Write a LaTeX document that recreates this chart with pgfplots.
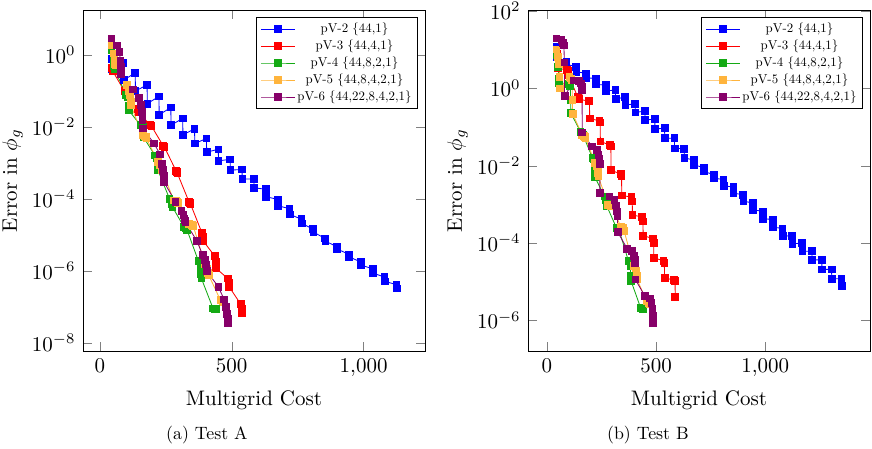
\documentclass[border=0pt]{standalone}
\usepackage{graphicx}
\usepackage{pgfplots}
\pgfplotsset{compat=1.18}
\definecolor{cgreen}{RGB}{20,170,20}
\definecolor{corange}{RGB}{255,180,60}
\definecolor{cpurple}{RGB}{135,0,105}
\newcommand{\legtxt}[1]{\scalebox{0.613}{#1}}
\begin{document}
\begin{tikzpicture}
\begin{axis}[width=162.9pt, height=162.4pt, scale only axis,
    ymode=log,
    xlabel={Multigrid Cost}, ylabel={Error in $\phi_g$}, ylabel shift=-2.5pt,
    xtick={0,500,1000},
    legend cell align=center,
    legend style={draw=black, at={(0.98,0.98)}, anchor=north east, nodes={inner sep=1pt}, inner xsep=2pt, inner ysep=1.5pt},
    legend image code/.code={\draw[mark repeat=2,mark phase=2,#1] plot coordinates {(0cm,0cm) (0.28cm,0cm) (0.56cm,0cm)};},
    every axis plot/.append style={mark=square*, mark size=1.6pt, line width=0.4pt},
    at={(0pt,0pt)}, anchor=south west, ytick={1e-8,1e-6,1e-4,1e-2,1}]
\addplot[blue] coordinates {
(44,7.9e-1)(45,4.0e-1)(89,6.0e-1)(90,2.0e-1)(134,3.2e-1)(135,1.0e-1)
(179,1.48e-1)(180,4.47e-2)(224,7.08e-2)(225,2.19e-2)(269,3.47e-2)(270,1.12e-2)
(314,1.74e-2)(315,6.03e-3)(359,8.91e-3)(360,3.47e-3)(404,4.79e-3)(405,2.0e-3)
(449,2.40e-3)(450,1.15e-3)(494,1.26e-3)(495,6.31e-4)(539,6.61e-4)(540,3.63e-4)
(584,3.55e-4)(585,2.04e-4)(629,1.86e-4)(630,1.15e-4)(674,9.77e-5)(675,6.46e-5)
(719,5.37e-5)(720,3.72e-5)(764,2.75e-5)(765,2.09e-5)(809,1.45e-5)(810,1.20e-5)
(854,7.94e-6)(855,6.76e-6)(899,4.68e-6)(900,4.07e-6)(944,2.88e-6)(945,2.45e-6)
(989,1.78e-6)(990,1.45e-6)(1034,1.15e-6)(1035,8.71e-7)(1079,6.76e-7)(1080,5.13e-7)
(1124,4.17e-7)(1125,3.24e-7)};
\addlegendentry{\legtxt{pV-2 \{44,1\}}}
\addplot[red] coordinates {
(44,0.447)(48,0.398)(49,0.355)
(93,0.100)(97,0.0912)(98,0.0851)
(142,0.0316)(146,0.0288)(147,0.0263)
(191,0.0112)(195,0.0107)(196,0.0105)
(240,3.02e-3)(244,2.88e-3)(245,2.75e-3)
(289,6.03e-4)(293,5.62e-4)(294,5.13e-4)
(338,8.32e-5)(342,7.76e-5)(343,7.41e-5)
(387,1.15e-5)(391,8.91e-6)(392,6.76e-6)
(436,2.57e-6)(440,1.78e-6)(441,1.17e-6)
(485,6.17e-7)(489,4.68e-7)(490,3.63e-7)
(534,1.20e-7)(538,9.12e-8)(539,6.92e-8)};
\addlegendentry{\legtxt{pV-3 \{44,4,1\}}}
\addplot[cgreen] coordinates {
(44,1.41)(52,0.794)(54,0.501)(55,0.417)
(99,0.0794)(107,0.0676)(109,0.0398)(110,0.0288)
(154,0.0112)(162,0.0100)(164,6.31e-3)(165,5.25e-3)
(209,1.62e-3)(217,1.41e-3)(219,7.94e-4)(220,6.31e-4)
(264,1.02e-4)(272,8.91e-5)(274,7.08e-5)(275,6.03e-5)
(319,1.66e-5)(327,1.58e-5)(329,1.48e-5)(330,1.41e-5)
(374,1.86e-6)(382,1.26e-6)(384,7.94e-7)(385,6.17e-7)
(429,9.12e-8)(437,8.91e-8)(439,8.71e-8)(440,8.51e-8)};
\addlegendentry{\legtxt{pV-4 \{44,8,2,1\}}}
\addplot[corange] coordinates {
(44,1.86)(52,1.10)(56,0.708)(58,0.562)(59,0.513)
(103,0.145)(111,0.100)(115,0.0759)(117,0.0501)(118,0.0398)
(162,5.89e-3)(170,5.50e-3)(174,5.25e-3)(176,5.01e-3)(177,4.79e-3)
(221,1.07e-3)(229,8.91e-4)(233,7.59e-4)(235,6.92e-4)(236,6.31e-4)
(280,9.12e-5)(288,8.71e-5)(292,8.32e-5)(294,7.94e-5)(295,7.76e-5)
(339,2.00e-5)(347,1.91e-5)(351,1.86e-5)(353,1.82e-5)(354,1.78e-5)
(398,1.58e-6)(406,1.12e-6)(410,8.91e-7)(412,7.94e-7)(413,7.59e-7)
(457,1.55e-7)(465,1.48e-7)(469,1.41e-7)(471,1.38e-7)(472,1.35e-7)};
\addlegendentry{\legtxt{pV-5 \{44,8,4,2,1\}}}
\addplot[cpurple] coordinates {
(44,2.88)(66,1.86)(74,1.20)(78,0.708)(80,0.468)(81,0.302)
(125,0.110)(147,0.0646)(155,0.0407)(159,0.0257)(161,0.0155)(162,9.12e-3)
(206,3.47e-3)(228,1.74e-3)(236,9.55e-4)(240,6.31e-4)(242,4.37e-4)(243,2.95e-4)
(287,8.32e-5)(309,4.68e-5)(317,3.55e-5)(321,2.82e-5)(323,2.51e-5)(324,2.29e-5)
(368,6.76e-6)(390,2.75e-6)(398,2.00e-6)(402,1.51e-6)(404,1.17e-6)(405,1.00e-6)
(449,3.63e-7)(471,1.62e-7)(479,1.00e-7)(483,6.31e-8)(485,4.79e-8)(486,3.63e-8)};
\addlegendentry{\legtxt{pV-6 \{44,22,8,4,2,1\}}}
\end{axis}
\begin{axis}[width=162.9pt, height=162.4pt, scale only axis,
    ymode=log,
    xlabel={Multigrid Cost}, ylabel={Error in $\phi_g$}, ylabel shift=-2.5pt,
    xtick={0,500,1000},
    legend cell align=center,
    legend style={draw=black, at={(0.98,0.98)}, anchor=north east, nodes={inner sep=1pt}, inner xsep=2pt, inner ysep=1.5pt},
    legend image code/.code={\draw[mark repeat=2,mark phase=2,#1] plot coordinates {(0cm,0cm) (0.28cm,0cm) (0.56cm,0cm)};},
    every axis plot/.append style={mark=square*, mark size=1.6pt, line width=0.4pt},
    at={(211.9pt,0pt)}, anchor=south west, ytick={1e-6,1e-4,1e-2,1,1e2}]
\addplot[blue] coordinates {
(44,11.7)(45,6.31)(89,5.01)(90,4.17)(134,3.63)(135,2.69)(179,2.45)(180,1.86)
(224,1.82)(225,1.26)(269,1.22)(270,0.851)(314,0.912)(315,0.525)(359,0.603)(360,0.372)
(404,0.398)(405,0.240)(449,0.257)(450,0.151)(494,0.162)(495,0.0891)
(539,0.0933)(540,0.0513)(584,0.0513)(585,0.0282)(629,0.0275)(630,0.0158)
(674,0.0141)(675,0.0105)(719,8.91e-3)(720,7.08e-3)(764,5.89e-3)(765,4.79e-3)
(809,4.37e-3)(810,3.02e-3)(854,2.82e-3)(855,1.95e-3)(899,1.78e-3)(900,1.20e-3)
(944,1.10e-3)(945,7.24e-4)(989,6.61e-4)(990,4.27e-4)(1034,4.07e-4)(1035,2.57e-4)
(1079,2.40e-4)(1080,1.51e-4)(1124,1.55e-4)(1125,9.55e-5)(1169,1.00e-4)(1170,6.17e-5)
(1214,6.17e-5)(1215,3.63e-5)(1259,3.72e-5)(1260,2.09e-5)(1304,2.09e-5)(1305,1.20e-5)
(1349,1.20e-5)(1350,7.76e-6)};
\addlegendentry{\legtxt{pV-2 \{44,1\}}}
\addplot[red] coordinates {
(44,8.81)(48,7.94)(49,3.39)
(93,2.95)(97,2.82)(98,2.19)
(142,0.589)(146,0.550)(147,0.525)
(191,0.468)(195,0.457)(196,0.166)
(240,0.145)(244,0.132)(245,0.0427)
(289,0.0339)(293,0.0316)(294,7.76e-3)
(338,6.03e-3)(342,5.50e-3)(343,1.70e-3)
(387,1.55e-3)(391,1.20e-3)(392,5.25e-4)
(436,4.79e-4)(440,3.63e-4)(441,1.55e-4)
(485,1.32e-4)(489,1.02e-4)(490,4.17e-5)
(534,3.47e-5)(538,3.09e-5)(539,1.26e-5)
(583,1.10e-5)(587,1.05e-5)(588,4.07e-6)};
\addlegendentry{\legtxt{pV-3 \{44,4,1\}}}
\addplot[cgreen] coordinates {
(44,7.24)(52,3.63)(54,1.82)(55,1.41)
(99,1.29)(107,1.15)(109,0.501)(110,0.229)
(154,0.0759)(162,0.0692)(164,0.0646)(165,0.0631)
(209,0.0158)(217,0.0148)(219,7.94e-3)(220,5.01e-3)
(264,1.62e-3)(272,1.32e-3)(274,1.10e-3)(275,8.91e-4)
(319,2.45e-4)(327,2.34e-4)(329,2.24e-4)(330,2.24e-4)
(374,3.39e-5)(382,2.51e-5)(384,1.41e-5)(385,1.07e-5)
(429,2.14e-6)(437,2.04e-6)(439,2.00e-6)(440,1.91e-6)};
\addlegendentry{\legtxt{pV-4 \{44,8,2,1\}}}
\addplot[corange] coordinates {
(44,10.1)(52,6.61)(56,4.37)(58,2.00)(59,1.00)
(103,2.00)(111,1.82)(115,1.62)(117,0.501)(118,0.219)
(162,0.0631)(170,0.0589)(174,0.0550)(176,0.0525)(177,0.0513)
(221,0.0117)(229,9.55e-3)(233,7.94e-3)(235,6.46e-3)(236,5.25e-3)
(280,9.77e-4)(288,9.55e-4)(292,9.33e-4)(294,9.12e-4)(295,8.91e-4)
(339,2.69e-4)(347,2.45e-4)(351,2.24e-4)(353,2.09e-4)(354,2.04e-4)
(398,2.51e-5)(406,2.29e-5)(410,1.91e-5)(412,1.41e-5)(413,1.15e-5)
(457,3.16e-6)(465,3.02e-6)(469,2.88e-6)(471,2.75e-6)(472,2.63e-6)};
\addlegendentry{\legtxt{pV-5 \{44,8,4,2,1\}}}
\addplot[cpurple] coordinates {
(44,19.5)(66,17.8)(74,15.1)(78,12.9)(80,4.68)(81,0.631)
(125,1.62)(147,1.58)(155,1.35)(159,1.07)(161,0.912)(162,0.0724)
(206,0.0316)(228,0.0257)(236,0.0191)(240,0.0148)(242,0.0112)(243,1.95e-3)
(287,1.62e-3)(309,1.32e-3)(317,9.33e-4)(321,6.61e-4)(323,4.90e-4)(324,1.95e-4)
(368,7.08e-5)(390,6.17e-5)(398,4.57e-5)(402,3.80e-5)(404,3.09e-5)(405,1.15e-5)
(449,4.27e-6)(471,3.72e-6)(479,2.88e-6)(483,1.95e-6)(485,1.35e-6)(486,8.71e-7)};
\addlegendentry{\legtxt{pV-6 \{44,22,8,4,2,1\}}}
\end{axis}
\node at (59pt,-40pt) {\scalebox{0.85}{(a) Test A}};
\node at (269pt,-40pt) {\scalebox{0.85}{(b) Test B}};
\pgfresetboundingbox
\useasboundingbox (-39.5pt,-46.2pt) rectangle (375.7pt,167.2pt);
\end{tikzpicture}
\end{document}
